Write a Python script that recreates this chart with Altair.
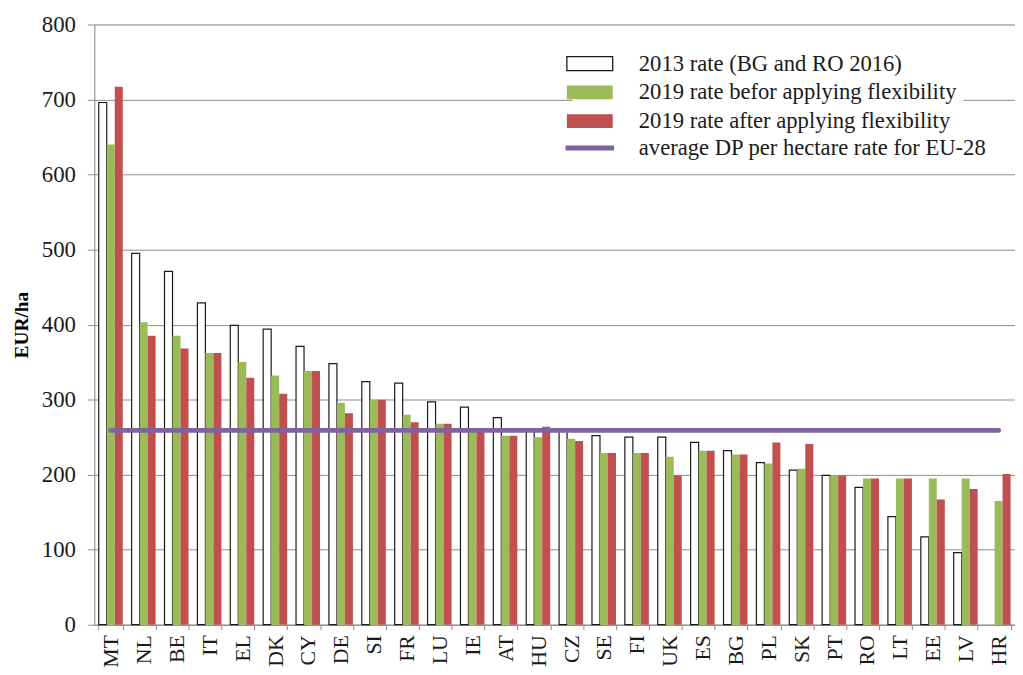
import altair as alt
import pandas as pd

countries = ["MT", "NL", "BE", "IT", "EL", "DK", "CY", "DE", "SI", "FR", "LU", "IE", "AT", "HU",
             "CZ", "SE", "FI", "UK", "ES", "BG", "PL", "SK", "PT", "RO", "LT", "EE", "LV", "HR"]
rate_2013 = [696, 495, 471, 429, 399, 394, 371, 348, 324, 322, 297, 290, 276, 260,
             258, 252, 250, 250, 243, 232, 216, 206, 199, 183, 144, 117, 96, None]
rate_2019_before = [640, 403, 385, 362, 350, 332, 338, 296, 300, 280, 268, 260, 252, 250,
                    248, 229, 229, 224, 232, 227, 215, 208, 199, 195, 195, 195, 195, 165]
rate_2019_after = [717, 385, 368, 362, 329, 308, 338, 282, 300, 270, 268, 258, 252, 264,
                   245, 229, 229, 199, 232, 227, 243, 241, 199, 195, 195, 167, 181, 201]
eu_average = 259

series_names = ["2013 rate (BG and RO 2016)",
                "2019 rate befor applying flexibility",
                "2019 rate after applying flexibility"]
avg_name = "average DP per hectare rate for EU-28"

rows = []
for i, c in enumerate(countries):
    for s, vals in zip(series_names, [rate_2013, rate_2019_before, rate_2019_after]):
        if vals[i] is not None:
            rows.append({"country": c, "series": s, "value": vals[i]})
bars_df = pd.DataFrame(rows)
avg_df = pd.DataFrame({"country": countries, "avg": [eu_average] * len(countries), "label": avg_name})

FONT = "Liberation Serif"
GRID = "#8c8c8c"
TEXT = "#1a1a1a"

x_enc = alt.X("country:N", sort=countries, title=None,
              scale=alt.Scale(paddingInner=0.27, paddingOuter=0.135),
              axis=alt.Axis(labelAngle=270, labelFont=FONT, labelFontSize=22, labelColor=TEXT,
                            tickBand="extent", tickSize=5, tickColor=GRID, domainColor=GRID,
                            labelPadding=5, grid=False))
y_enc = alt.Y("value:Q", title="EUR/ha",
              scale=alt.Scale(domain=[0, 800], nice=False),
              axis=alt.Axis(values=[0, 100, 200, 300, 400, 500, 600, 700, 800],
                            labelFont=FONT, labelFontSize=23, labelColor=TEXT,
                            titleFont=FONT, titleFontSize=19.5, titleFontWeight="bold",
                            titleColor="#000000", titlePadding=10,
                            tickSize=7, tickColor=GRID, domainColor=GRID,
                            gridColor=GRID, gridWidth=1, labelPadding=12))

first = series_names[0]
bar_legend = alt.Legend(
    orient="none", legendX=482, legendY=22, title=None,
    symbolType="M-3.3,-1H3.3V1H-3.3Z", symbolSize=196,
    symbolStrokeColor=alt.ExprRef(expr=f"datum.value === '{first}' ? '#1a1a1a' : 'transparent'"),
    symbolStrokeWidth=1.3,
    labelFont=FONT, labelFontSize=22.8, labelColor=TEXT,
    labelOffset=38, rowPadding=5, fillColor="white", padding=6, labelLimit=600,
)

bars = alt.Chart(bars_df).mark_bar(strokeWidth=1.2).encode(
    x=x_enc,
    y=y_enc,
    xOffset=alt.XOffset("series:N", sort=series_names,
                        scale=alt.Scale(paddingInner=0, paddingOuter=0)),
    fill=alt.Fill("series:N", sort=series_names,
                  scale=alt.Scale(domain=series_names, range=["#ffffff", "#9BBB59", "#C0504D"]),
                  legend=bar_legend),
    stroke=alt.condition(f"datum.series === '{first}'", alt.value("#1a1a1a"), alt.value("transparent")),
)

line_legend = alt.Legend(
    orient="none", legendX=482, legendY=107, title=None,
    symbolType="M-3.5,0H3.5", symbolSize=196, symbolStrokeWidth=5,
    labelFont=FONT, labelFontSize=22.8, labelColor=TEXT,
    labelOffset=38, padding=6, labelLimit=600,
)

line = alt.Chart(avg_df).mark_line(strokeWidth=5, strokeCap="round").encode(
    x=alt.X("country:N", sort=countries),
    y=alt.Y("avg:Q"),
    stroke=alt.Stroke("label:N",
                      scale=alt.Scale(domain=[avg_name], range=["#7F62A1"]),
                      legend=line_legend),
)

chart = alt.layer(bars, line).properties(
    width=928, height=605,
    autosize=alt.AutoSizeParams(type="none"),
    padding={"left": 87, "top": 14, "right": 0, "bottom": 40},
).configure_view(stroke=None).configure(background="white")

chart.save("out.html", embed_options={"renderer": "svg", "actions": False})
